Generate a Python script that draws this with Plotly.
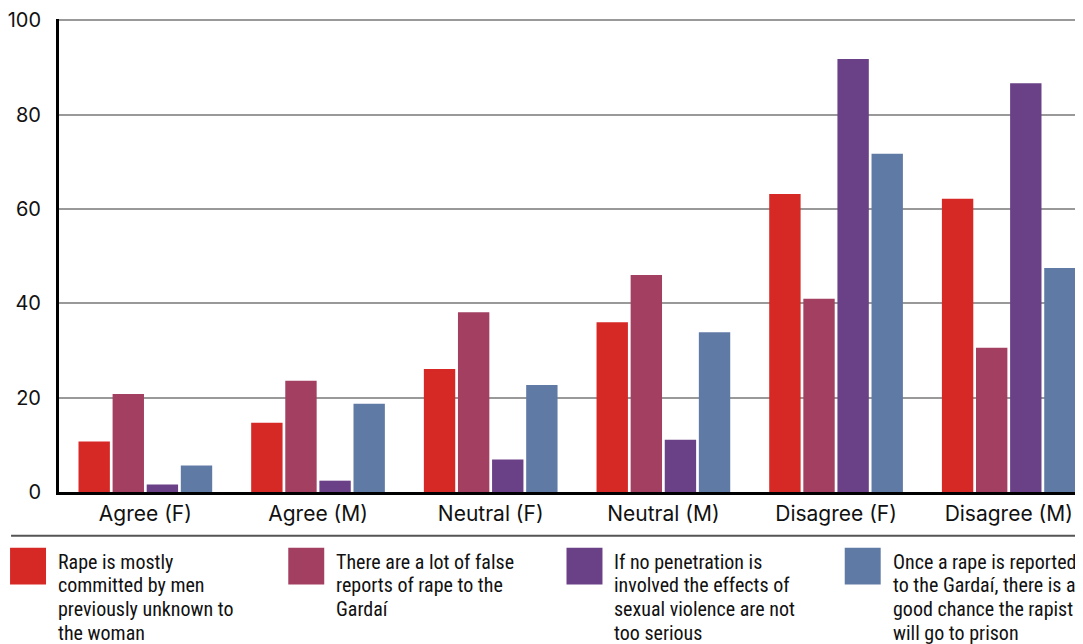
import plotly.graph_objects as go

# Data
categories = ["Agree (F)", "Agree (M)", "Neutral (F)", "Neutral (M)", "Disagree (F)", "Disagree (M)"]
series_names = [
    "Rape is mostly committed by men previously unknown to the woman",
    "There are a lot of false reports of rape to the Gardaí",
    "If no penetration is involved the effects of sexual violence are not too serious",
    "Once a rape is reported to the Gardaí, there is a good chance the rapist will go to prison",
]
legend_lines = [
    ["Rape is mostly", "committed by men", "previously unknown to", "the woman"],
    ["There are a lot of false", "reports of rape to the", "Gardaí"],
    ["If no penetration is", "involved the effects of", "sexual violence are not", "too serious"],
    ["Once a rape is reported", "to the Gardaí, there is a", "good chance the rapist", "will go to prison"],
]
strangers = [10.7, 14.7, 26.1, 36.0, 63.2, 62.2]
false_reports = [20.8, 23.6, 38.1, 46.0, 41.0, 30.6]
no_penetration = [1.6, 2.4, 6.9, 11.1, 91.8, 86.7]
prison = [5.6, 18.7, 22.7, 33.9, 71.7, 47.5]
series_values = [strangers, false_reports, no_penetration, prison]
colors = ["#D62824", "#A33F60", "#6A4086", "#607AA6"]
y_ticks = [0, 20, 40, 60, 80, 100]

# page body has an 8px margin, so everything is shifted by that
OFF = 8
Y_TOP = 100.3  # a little headroom so the 100 tick/grid is drawn
W, H = 1083 - OFF, 644
L, R, B = 58 - OFF, 0, 644 - (492 - OFF)
T = round(H - B - 474 * Y_TOP / 100) - (18 - OFF) + (18 - OFF)
T = H - B - round(474 * Y_TOP / 100)

def px_x(p):
    return (p - OFF - L) / (W - L - R)

def px_y(p):
    return (H - B - (p - OFF)) / (H - T - B)

fig = go.Figure()
for name, vals, col in zip(series_names, series_values, colors):
    fig.add_trace(go.Bar(x=categories, y=vals, name=name, marker=dict(color=col, line=dict(width=0))))

base_font = "Inter, Roboto, sans-serif"
legend_font = dict(family="Roboto Condensed, Liberation Sans Narrow, Roboto, sans-serif", size=20, color="#111")

# separator line under the axis labels
shapes = [dict(type="line", xref="paper", yref="paper", x0=px_x(10), x1=px_x(1090),
               y0=px_y(536), y1=px_y(536), line=dict(color="#555", width=2))]
annotations = []
for i, (lines, col) in enumerate(zip(legend_lines, colors)):
    sx = 9 + i * 278.5
    shapes.append(dict(type="rect", xref="paper", yref="paper", x0=px_x(sx), x1=px_x(sx + 36),
                       y0=px_y(548), y1=px_y(585), fillcolor=col, line=dict(width=0)))
    for j, line in enumerate(lines):
        annotations.append(dict(text=line, xref="paper", yref="paper", x=px_x(sx + 46),
                                y=px_y(562 + j * 23.7), xanchor="left", yanchor="middle",
                                align="left", showarrow=False, font=legend_font))

fig.update_layout(
    width=W, height=H,
    margin=dict(l=L, r=R, t=T, b=B),
    paper_bgcolor="white", plot_bgcolor="white",
    barmode="group", bargap=0.21, bargroupgap=0.08,
    showlegend=False,
    shapes=shapes, annotations=annotations,
    xaxis=dict(range=[-0.5, 5.43], showline=True, linecolor="#000", linewidth=3,
               ticks="", tickfont=dict(family=base_font, size=21, color="#111"),
               ticklabelstandoff=1, showgrid=False, fixedrange=True),
    yaxis=dict(range=[0, Y_TOP], tickvals=y_ticks, showline=True, linecolor="#000",
               linewidth=3, showgrid=True, gridcolor="#999", gridwidth=1.5, ticks="",
               tickfont=dict(family=base_font, size=20, color="#111"), ticklabelstandoff=11,
               ticklabeloverflow="allow", zeroline=False, fixedrange=True),
)

fig.write_html("out.html", config={"displayModeBar": False})
